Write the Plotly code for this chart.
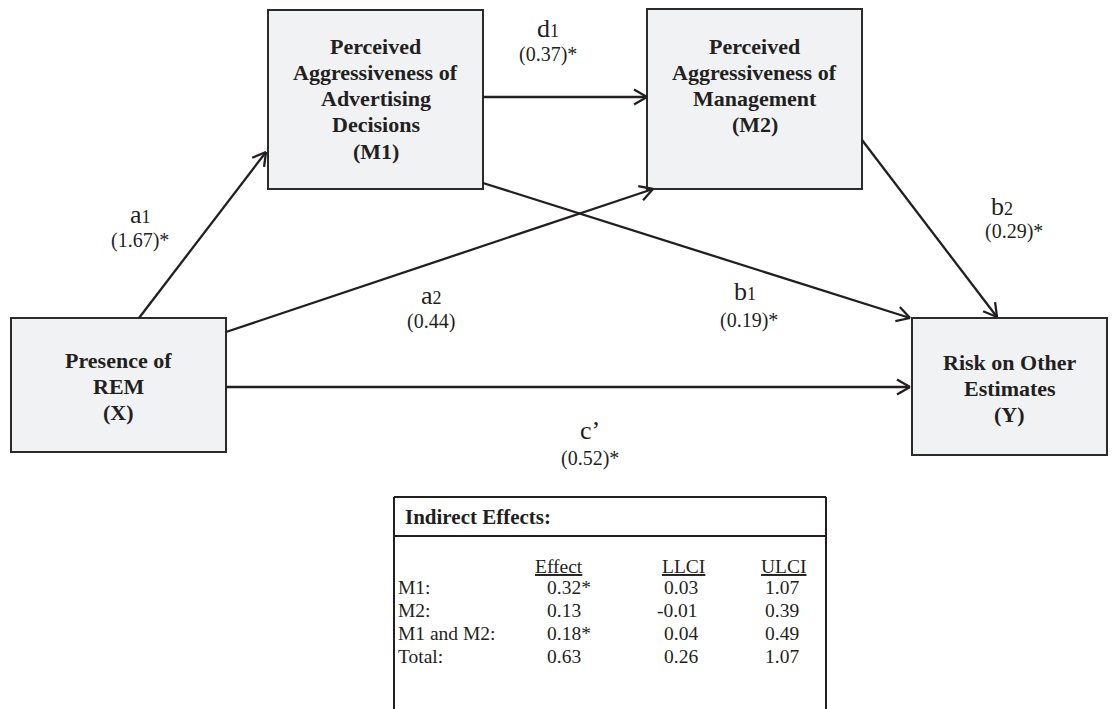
import math
import plotly.graph_objects as go

W, H = 1116, 709

# ---- path coefficients (serial mediation model) ----
path_names = ["a", "a", "d", "b", "b", "c’"]
path_subs = ["1", "2", "1", "1", "2", ""]
path_coef = [1.67, 0.44, 0.37, 0.19, 0.29, 0.52]
path_sig = [True, False, True, True, True, True]

# ---- indirect effects table ----
row_labels = ["M1:", "M2:", "M1 and M2:", "Total:"]
effect = [0.32, 0.13, 0.18, 0.63]
effect_sig = [True, False, True, False]
llci = [0.03, -0.01, 0.04, 0.26]
ulci = [1.07, 0.39, 0.49, 1.07]
col_headers = ["Effect", "LLCI", "ULCI"]

# ---- node boxes: (x0, y0, x1, y1) in pixel space, first text line y, text lines ----
nodes = {
    "M1": ((268, 10, 483, 189), 46,
           ["Perceived", "Aggressiveness of", "Advertising", "Decisions", "(M1)"]),
    "M2": ((647, 9, 862, 189), 46,
           ["Perceived", "Aggressiveness of", "Management", "(M2)"]),
    "X": ((11, 318, 226, 452), 360, ["Presence of", "REM", "(X)"]),
    "Y": ((912, 318, 1107, 455), 362, ["Risk on Other", "Estimates", "(Y)"]),
}

# arrow geometry: start, end, label anchor (x, y of the letter line)
arrows = [
    ((139, 318), (266, 152), (140, 214)),   # a1
    ((226, 332), (653, 189), (431, 295)),   # a2
    ((483, 97), (647, 97), (548, 28)),      # d1
    ((483, 183), (910, 318), (745, 291)),   # b1
    ((862, 140), (997, 317), (1002, 206)),  # b2
    ((226, 387), (910, 387), (590, 430)),   # c'
]
coef_offset = [(0, 26), (0, 26), (0, 26), (4, 29), (12, 25), (0, 28)]

INK = "#231f20"
FILL = "#f1f2f4"
SERIF = "Liberation Serif, Times New Roman, serif"

fig = go.Figure()
shapes = []
annotations = []

# node boxes
for name, (box, top, lines) in nodes.items():
    x0, y0, x1, y1 = box
    shapes.append(dict(type="rect", x0=x0, y0=y0, x1=x1, y1=y1,
                       line=dict(color="#2b2b2b", width=2), fillcolor=FILL, layer="below"))
    step = 26.3
    for i, t in enumerate(lines):
        annotations.append(dict(x=(x0 + x1) / 2, y=top + i * step, text=f"<b>{t}</b>",
                                showarrow=False, xanchor="center", yanchor="middle",
                                font=dict(family=SERIF, size=22, color=INK)))

# arrows: shaft plus open chevron head
head_len, head_ang = 15, math.radians(30)
for (sx, sy), (ex, ey), _ in arrows:
    dx, dy = ex - sx, ey - sy
    L = math.hypot(dx, dy)
    ux, uy = dx / L, dy / L
    hx = []
    hy = []
    for sgn in (1, -1):
        ca, sa = math.cos(sgn * head_ang), math.sin(sgn * head_ang)
        rx = -(ux * ca - uy * sa)
        ry = -(ux * sa + uy * ca)
        hx += [ex + rx * head_len, ex, None]
        hy += [ey + ry * head_len, ey, None]
    fig.add_trace(go.Scatter(x=[sx, ex, None] + hx, y=[sy, ey, None] + hy, mode="lines",
                             line=dict(color=INK, width=2.3), hoverinfo="skip",
                             showlegend=False))

# path labels
for (name, sub, c, sig, arr, off) in zip(path_names, path_subs, path_coef, path_sig,
                                         arrows, coef_offset):
    lx, ly = arr[2]
    letter = name + (f"<span style='font-size:18px'>{sub}</span>" if sub else "")
    annotations.append(dict(x=lx, y=ly, text=letter, showarrow=False,
                            xanchor="center", yanchor="middle",
                            font=dict(family=SERIF, size=26, color=INK)))
    annotations.append(dict(x=lx + off[0], y=ly + off[1],
                            text=f"({c:.2f})" + ("*" if sig else ""),
                            showarrow=False, xanchor="center", yanchor="middle",
                            font=dict(family=SERIF, size=20, color=INK)))

# indirect effects table
tx0, tx1, ty0, ty_head = 394, 826, 497, 536
TFONT = 19.5
shapes.append(dict(type="line", x0=tx0, x1=tx1, y0=ty0, y1=ty0, line=dict(color=INK, width=2)))
shapes.append(dict(type="line", x0=tx0, x1=tx1, y0=ty_head, y1=ty_head,
                   line=dict(color=INK, width=2)))
shapes.append(dict(type="line", x0=tx0, x1=tx0, y0=ty0, y1=H + 5, line=dict(color=INK, width=2)))
shapes.append(dict(type="line", x0=tx1, x1=tx1, y0=ty0, y1=H + 5, line=dict(color=INK, width=2)))
annotations.append(dict(x=403, y=517, text="<b>Indirect Effects:</b>", showarrow=False,
                        xanchor="left", yanchor="middle",
                        font=dict(family=SERIF, size=21, color=INK)))

col_x = [559, 683, 784]
for hx_, h in zip(col_x, col_headers):
    annotations.append(dict(x=hx_, y=566, text=f"<span style='text-decoration:underline'>{h}</span>",
                            showarrow=False, xanchor="center", yanchor="middle",
                            font=dict(family=SERIF, size=TFONT, color=INK)))

row_y0, row_step = 587, 23
for i, lab in enumerate(row_labels):
    y = row_y0 + i * row_step
    annotations.append(dict(x=396, y=y, text=lab, showarrow=False, xanchor="left",
                            yanchor="middle", font=dict(family=SERIF, size=TFONT, color=INK)))
    annotations.append(dict(x=545, y=y, text=f"{effect[i]:.2f}" + ("*" if effect_sig[i] else ""),
                            showarrow=False, xanchor="left", yanchor="middle",
                            font=dict(family=SERIF, size=TFONT, color=INK)))
    annotations.append(dict(x=700, y=y, text=f"{llci[i]:.2f}", showarrow=False,
                            xanchor="right", yanchor="middle",
                            font=dict(family=SERIF, size=TFONT, color=INK)))
    annotations.append(dict(x=801, y=y, text=f"{ulci[i]:.2f}", showarrow=False,
                            xanchor="right", yanchor="middle",
                            font=dict(family=SERIF, size=TFONT, color=INK)))

fig.update_layout(
    width=W, height=H, margin=dict(l=0, r=0, t=0, b=0),
    paper_bgcolor="white", plot_bgcolor="white",
    xaxis=dict(range=[0, W], visible=False, fixedrange=True),
    yaxis=dict(range=[H, 0], visible=False, fixedrange=True),
    shapes=shapes, annotations=annotations, showlegend=False,
)

fig.write_html("out.html")
